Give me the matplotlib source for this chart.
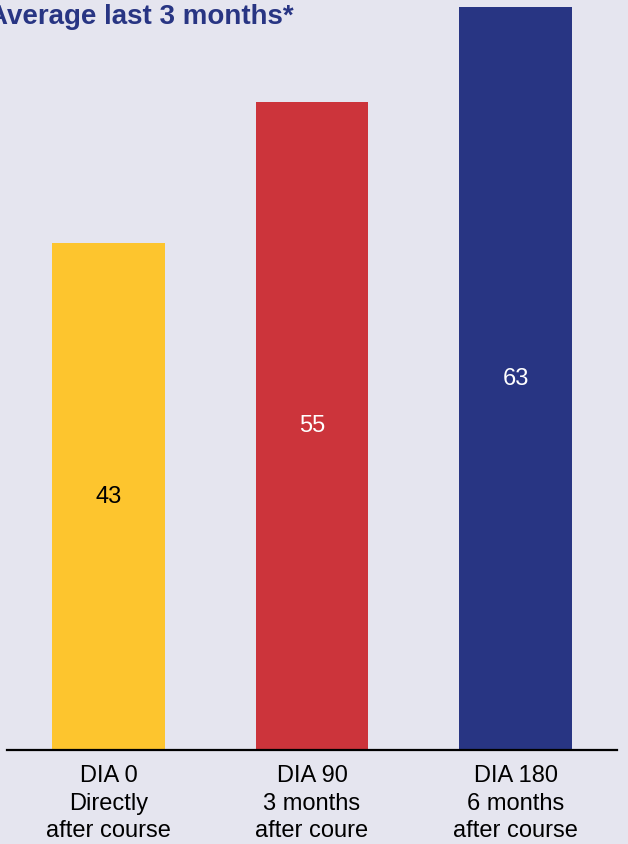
import matplotlib.pyplot as plt

# data
labels = ['DIA 0\nDirectly\nafter course', 'DIA 90\n3 months\nafter coure', 'DIA 180\n6 months\nafter course']
values = [43, 55, 63]
colors = ['#FDC52E', '#CC343B', '#283583']
value_colors = ['black', 'white', 'white']

bg = '#E5E5EF'
plt.rcParams['font.family'] = ['Liberation Sans', 'DejaVu Sans']

fig = plt.figure(figsize=(6.28, 8.44), dpi=100, facecolor=bg)
W, H = 628.0, 844.0
ax = fig.add_axes([6.75 / W, 1 - 750.0 / H, 610.5 / W, 750.0 / H])
ax.set_facecolor(bg)

x = range(len(values))
bars = ax.bar(x, values, width=0.555, color=colors)
for xi, v, c in zip(x, values, value_colors):
    ax.text(xi, v / 2.0, str(v), ha='center', va='center', color=c, fontsize=17)

ax.set_xlim(-0.5, 2.5)
ax.set_ylim(0, 750.0 / 11.79)
ax.set_xticks(list(x))
ax.set_xticklabels(labels, fontsize=17, linespacing=1.31)
ax.tick_params(axis='x', length=0, pad=11)
ax.set_yticks([])
for s in ['top', 'right', 'left']:
    ax.spines[s].set_visible(False)
ax.spines['bottom'].set_linewidth(1.6)

fig.text(-12 / W, 1 - 17 / H, 'Average last 3 months*', ha='left', va='center',
         fontsize=20, fontweight='bold', color='#283583')

fig.savefig('out.png', dpi=100, facecolor=bg)
